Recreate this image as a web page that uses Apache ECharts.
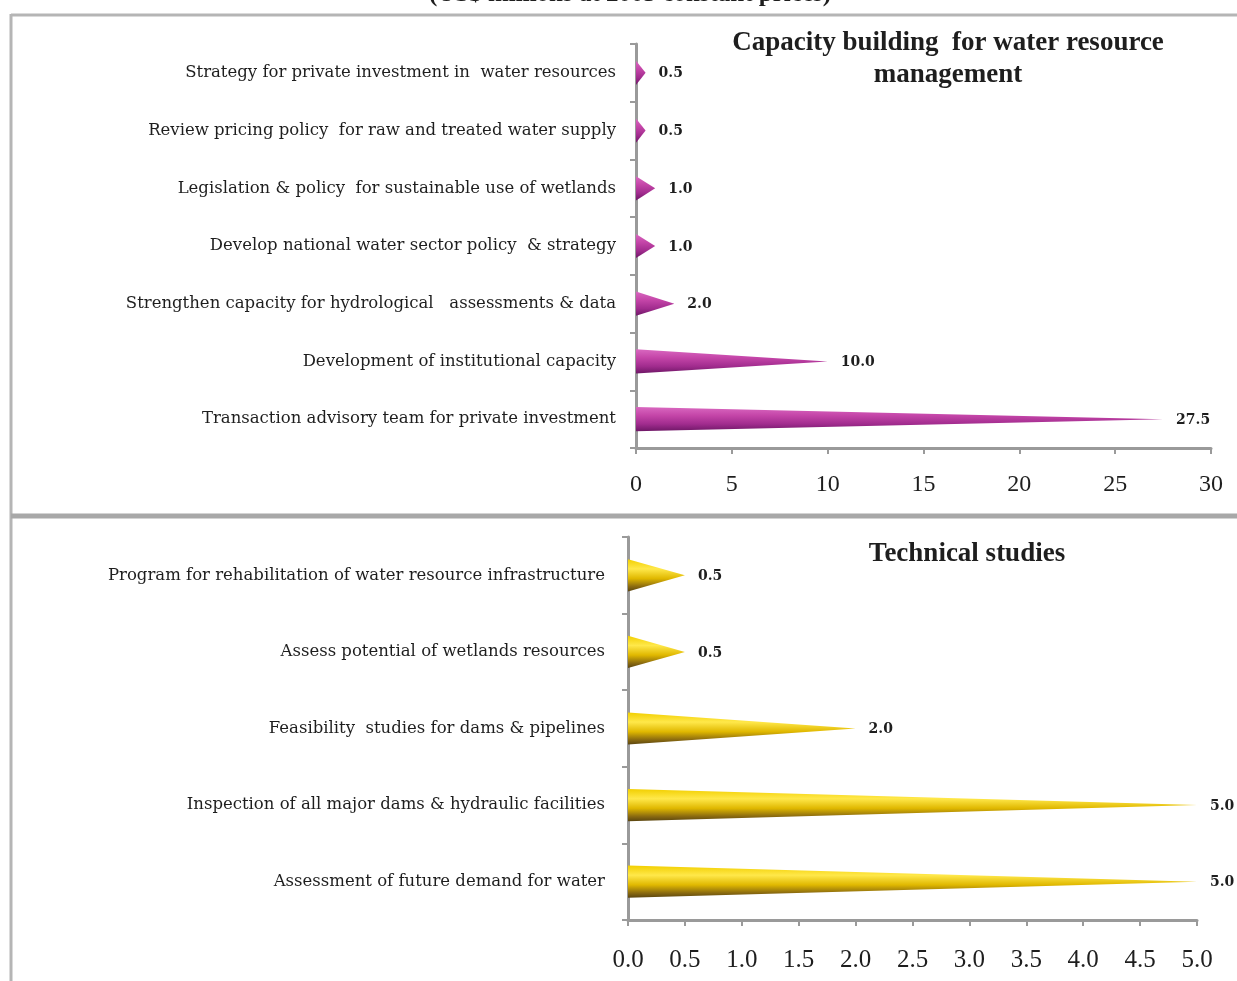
<!DOCTYPE html>
<html>
<head>
<meta charset="utf-8">
<script src="https://cdn.jsdelivr.net/npm/echarts@6/dist/echarts.min.js"></script>
<style>
  html, body { margin: 0; padding: 0; background: #fff; }
  #chart { width: 1237px; height: 981px; }
</style>
</head>
<body>
<div id="chart"></div>
<script>
// Capacity building (top panel), listed top to bottom
const capacityCategories = [
  'Strategy for private investment in  water resources',
  'Review pricing policy  for raw and treated water supply',
  'Legislation & policy  for sustainable use of wetlands',
  'Develop national water sector policy  & strategy',
  'Strengthen capacity for hydrological   assessments & data',
  'Development of institutional capacity',
  'Transaction advisory team for private investment'
];
const capacityValues = [0.5, 0.5, 1.0, 1.0, 2.0, 10.0, 27.5];
const capacityTicks = [0, 5, 10, 15, 20, 25, 30];

// Technical studies (bottom panel), listed top to bottom
const technicalCategories = [
  'Program for rehabilitation of water resource infrastructure',
  'Assess potential of wetlands resources',
  'Feasibility  studies for dams & pipelines',
  'Inspection of all major dams & hydraulic facilities',
  'Assessment of future demand for water'
];
const technicalValues = [0.5, 0.5, 2.0, 5.0, 5.0];
const technicalTicks = [0.0, 0.5, 1.0, 1.5, 2.0, 2.5, 3.0, 3.5, 4.0, 4.5, 5.0];

const SERIF = '"Liberation Serif", "DejaVu Serif", serif';
const WIDE_SERIF = '"DejaVu Serif", "Liberation Serif", serif';
const AXIS_GREY = '#9a9a9a';
const TEXT = '#1e1e1e';

// Cone-shaped horizontal bar: flat base on the axis, point at the value
function coneRenderer(stops) {
  return function (params, api) {
    const v = api.value(0);
    const idx = api.value(1);
    const base = api.coord([0, idx]);
    const tip = api.coord([v, idx]);
    const h = api.size([0, 1])[1] * 0.42;
    return {
      type: 'group',
      children: [
        {
          type: 'polygon',
          shape: { points: [[base[0], base[1] - h / 2], [tip[0], tip[1]], [base[0], base[1] + h / 2]] },
          style: {
            fill: { type: 'linear', x: 0, y: 0, x2: 0, y2: 1, colorStops: stops }
          }
        },
        {
          type: 'text',
          x: tip[0] + 13,
          y: tip[1] + 1,
          style: {
            text: v.toFixed(1),
            font: 'bold 14px ' + WIDE_SERIF,
            fill: TEXT,
            verticalAlign: 'middle',
            align: 'left'
          }
        }
      ]
    };
  };
}

const magentaStops = [
  { offset: 0, color: '#d968c0' },
  { offset: 0.35, color: '#c445a8' },
  { offset: 0.7, color: '#a12c8e' },
  { offset: 1, color: '#6e1766' }
];
const goldStops = [
  { offset: 0, color: '#f2cf00' },
  { offset: 0.3, color: '#ffe84a' },
  { offset: 0.6, color: '#e0b800' },
  { offset: 0.85, color: '#8a6a10' },
  { offset: 1, color: '#5a4510' }
];

function yAxisCfg(gridIndex, cats, margin) {
  return {
    type: 'category',
    gridIndex: gridIndex,
    data: cats,
    inverse: true,
    axisLine: { lineStyle: { color: AXIS_GREY, width: 3 } },
    axisTick: { show: true, length: 6, lineStyle: { color: AXIS_GREY, width: 2 } },
    axisLabel: { color: TEXT, fontFamily: WIDE_SERIF, fontSize: 16.5, margin: margin },
    splitLine: { show: false }
  };
}

function xAxisCfg(gridIndex, ticks, margin, digits, size) {
  const step = ticks[1] - ticks[0];
  return {
    type: 'value',
    gridIndex: gridIndex,
    min: ticks[0],
    max: ticks[ticks.length - 1],
    interval: step,
    axisLine: { show: true, lineStyle: { color: AXIS_GREY, width: 3 } },
    axisTick: { show: true, length: 6, lineStyle: { color: AXIS_GREY, width: 2 } },
    axisLabel: {
      color: TEXT, fontFamily: SERIF, fontSize: size, margin: margin,
      formatter: function (val) { return val.toFixed(digits); }
    },
    splitLine: { show: false }
  };
}

const chart = echarts.init(document.getElementById('chart'), null, { renderer: 'canvas' });

chart.setOption({
  backgroundColor: '#ffffff',
  animation: false,
  grid: [
    { left: 636, right: 26, top: 44, height: 404 },
    { left: 628, right: 40, top: 537, height: 383 }
  ],
  xAxis: [
    xAxisCfg(0, capacityTicks, 25, 0, 24),
    xAxisCfg(1, technicalTicks, 28, 1, 25)
  ],
  yAxis: [
    yAxisCfg(0, capacityCategories, 20),
    yAxisCfg(1, technicalCategories, 23)
  ],
  series: [
    {
      type: 'custom',
      xAxisIndex: 0,
      yAxisIndex: 0,
      renderItem: coneRenderer(magentaStops),
      encode: { x: 0, y: 1 },
      data: capacityValues.map(function (v, i) { return [v, i]; })
    },
    {
      type: 'custom',
      xAxisIndex: 1,
      yAxisIndex: 1,
      renderItem: coneRenderer(goldStops),
      encode: { x: 0, y: 1 },
      data: technicalValues.map(function (v, i) { return [v, i]; })
    }
  ],
  graphic: [
    // panel frames
    { type: 'line', shape: { x1: 11, y1: 15, x2: 1240, y2: 15 }, style: { stroke: '#b5b5b5', lineWidth: 3 } },
    { type: 'line', shape: { x1: 11, y1: 14, x2: 11, y2: 990 }, style: { stroke: '#b5b5b5', lineWidth: 3 } },
    { type: 'line', shape: { x1: 11, y1: 516, x2: 1240, y2: 516 }, style: { stroke: '#a8a8a8', lineWidth: 5 } },
    // overall heading, running off the top edge
    {
      type: 'text', x: 630, y: 7,
      style: { text: '(US$ millions at 2005 constant prices)', font: 'bold 25px ' + SERIF, fill: TEXT, align: 'center', verticalAlign: 'bottom' }
    },
    // panel headings
    {
      type: 'text', x: 948, y: 59,
      style: { text: 'Capacity building  for water resource\nmanagement', font: 'bold 27px ' + SERIF, lineHeight: 32, fill: TEXT, align: 'center', verticalAlign: 'middle' }
    },
    {
      type: 'text', x: 967, y: 554,
      style: { text: 'Technical studies', font: 'bold 27px ' + SERIF, fill: TEXT, align: 'center', verticalAlign: 'middle' }
    }
  ]
});
</script>
</body>
</html>
